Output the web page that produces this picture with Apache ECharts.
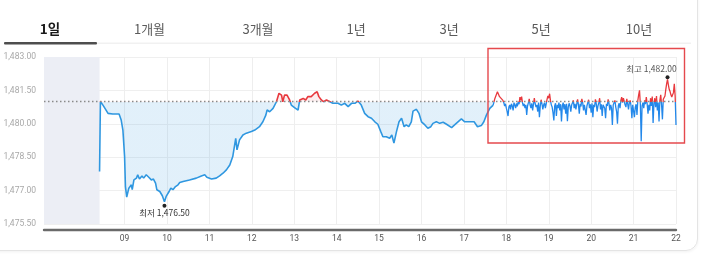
<!DOCTYPE html>
<html>
<head>
<meta charset="utf-8">
<script src="https://cdn.jsdelivr.net/npm/echarts@6/dist/echarts.min.js"></script>
<style>
html,body{margin:0;padding:0;background:#fff;overflow:hidden;}
#card{position:absolute;left:-12px;top:-12px;width:708px;height:261px;border:1px solid #e4e4e4;border-radius:12px;box-shadow:0 1px 3px rgba(0,0,0,0.06);}
#chart{position:absolute;left:0;top:0;width:712px;height:264px;}
</style>
</head>
<body>
<div id="card"></div>
<div id="chart"></div>
<script>
// ---- data ----
const tabs = ['1일', '1개월', '3개월', '1년', '3년', '5년', '10년'];
const hourTicks = [9, 10, 11, 12, 13, 14, 15, 16, 17, 18, 19, 20, 21, 22];
const prevClose = 1481.0;
const yTicksMin = 1475.5, yTicksMax = 1483.0, yStep = 1.5;

// day session (hour of day, price)
const dayTimes = [8.41, 8.43, 8.49, 8.61, 8.72, 8.87, 8.92, 8.96, 9.00, 9.02, 9.05, 9.10, 9.16, 9.18, 9.22, 9.28, 9.31, 9.35, 9.41, 9.45,
  9.51, 9.57, 9.63, 9.68, 9.73, 9.76, 9.83, 9.89, 9.94, 9.98, 10.05, 10.09, 10.14, 10.20, 10.26, 10.30, 10.38, 10.53, 10.69, 10.81,
  10.89, 10.94, 11.05, 11.16, 11.24, 11.32, 11.40, 11.48, 11.55, 11.62, 11.65, 11.71, 11.79, 11.87, 11.91, 11.99, 12.07, 12.18, 12.26, 12.33,
  12.36, 12.42, 12.50, 12.58, 12.64, 12.70, 12.73, 12.77, 12.83, 12.89, 12.93, 12.97, 13.03, 13.09, 13.13, 13.21, 13.27, 13.32, 13.40, 13.48,
  13.54, 13.58, 13.64, 13.69, 13.76, 13.84, 13.91, 14.03, 14.11, 14.19, 14.27, 14.35, 14.43, 14.50, 14.58, 14.66, 14.74, 14.82, 14.90, 14.97,
  15.04, 15.09, 15.17, 15.25, 15.30, 15.35, 15.41, 15.47, 15.53, 15.59, 15.64, 15.70, 15.76, 15.80, 15.88, 15.94, 16.00, 16.08, 16.15, 16.22,
  16.27, 16.35, 16.43, 16.51, 16.59, 16.71, 16.78, 16.86, 16.94, 17.02, 17.14, 17.24, 17.32, 17.41, 17.47, 17.53, 17.61, 17.69];
const dayValues = [1477.86, 1481.00, 1480.84, 1480.47, 1480.44, 1480.44, 1480.17, 1479.72, 1478.53, 1477.18, 1476.71, 1477.11, 1477.26, 1477.04, 1477.48, 1477.56, 1477.71, 1477.52, 1477.66, 1477.56,
  1477.71, 1477.60, 1477.48, 1477.52, 1477.34, 1477.04, 1476.96, 1476.77, 1476.50, 1476.74, 1476.96, 1477.11, 1477.04, 1477.18, 1477.26, 1477.36, 1477.41, 1477.48, 1477.56, 1477.66,
  1477.71, 1477.60, 1477.52, 1477.56, 1477.66, 1477.78, 1477.93, 1478.15, 1478.53, 1479.35, 1478.83, 1479.28, 1479.50, 1479.58, 1479.50, 1479.65, 1479.72, 1479.87, 1480.09, 1480.39,
  1480.62, 1480.54, 1480.69, 1480.99, 1481.37, 1481.29, 1480.99, 1481.29, 1481.29, 1481.07, 1480.84, 1480.92, 1480.69, 1480.62, 1481.07, 1481.14, 1481.07, 1481.22, 1481.22, 1481.37,
  1481.44, 1481.22, 1481.07, 1480.99, 1481.07, 1480.99, 1480.92, 1480.92, 1480.84, 1480.92, 1480.77, 1480.92, 1480.92, 1481.02, 1480.84, 1480.47, 1480.32, 1480.25, 1480.09, 1479.98,
  1479.65, 1479.42, 1479.42, 1479.35, 1479.50, 1479.13, 1479.65, 1480.09, 1480.25, 1479.87, 1479.95, 1479.87, 1480.09, 1480.57, 1480.65, 1480.47, 1480.09, 1479.95, 1479.80, 1479.87,
  1480.02, 1480.09, 1480.02, 1480.07, 1479.98, 1479.83, 1479.95, 1480.09, 1480.22, 1480.09, 1480.09, 1480.09, 1479.87, 1479.92, 1480.09, 1480.39, 1480.69, 1480.84];

// bridge into the night session
const bridgeTimes = [17.69, 17.73, 17.79, 17.84];
const bridgeValues = [1480.84, 1481.14, 1481.44, 1481.22];

// night session: one price per 1.2-minute step starting at 17.92h
const nightStart = 17.92, nightStep = 0.02;
const nightValues = [
  1481.05, 1480.95, 1480.80, 1480.90, 1480.70, 1480.55, 1480.35, 1480.75, 1480.85, 1480.65,
  1480.90, 1480.80, 1480.60, 1480.95, 1480.85, 1480.70, 1480.92, 1480.78, 1481.00, 1480.88,
  1481.20, 1481.05, 1481.22, 1480.95, 1480.80, 1480.90, 1480.70, 1480.85, 1480.40, 1480.80,
  1480.95, 1481.12, 1480.85, 1480.70, 1480.92, 1480.60, 1480.88, 1481.15, 1480.90, 1480.75,
  1480.85, 1480.55, 1480.95, 1480.30, 1480.80, 1481.08, 1480.90, 1480.65, 1480.85, 1480.95,
  1480.70, 1480.90, 1481.10, 1481.25, 1481.15, 1481.35, 1481.05, 1480.85, 1480.75, 1480.50,
  1480.15, 1480.80, 1480.92, 1480.35, 1480.85, 1480.70, 1480.95, 1480.60, 1480.88, 1480.10,
  1480.80, 1480.95, 1480.65, 1480.88, 1480.45, 1480.90, 1480.12, 1480.75, 1480.92, 1480.80,
  1480.55, 1480.85, 1480.95, 1481.05, 1480.70, 1480.90, 1480.65, 1480.88, 1481.10, 1480.85,
  1480.45, 1480.90, 1480.78, 1481.12, 1480.95, 1480.60, 1480.85, 1480.92, 1480.40, 1480.80,
  1480.95, 1481.08, 1480.70, 1480.88, 1480.50, 1480.92, 1480.30, 1480.85, 1480.75, 1481.10,
  1480.90, 1480.55, 1480.80, 1480.95, 1481.15, 1480.65, 1480.88, 1480.35, 1480.85, 1480.92,
  1480.70, 1480.25, 1480.90, 1480.80, 1481.10, 1480.92, 1480.60, 1480.85, 1480.70, 1479.95,
  1480.85, 1480.95, 1481.05, 1480.75, 1480.55, 1480.00, 1480.80, 1480.92, 1480.70, 1481.05,
  1481.20, 1480.95, 1481.15, 1481.22, 1480.85, 1480.75, 1481.12, 1480.90, 1480.65, 1480.95,
  1481.05, 1480.80, 1480.25, 1480.85, 1480.92, 1480.30, 1480.75, 1480.88, 1480.40, 1481.05,
  1481.30, 1481.50, 1480.85, 1479.22, 1480.80, 1480.95, 1480.70, 1481.05, 1480.88, 1481.20,
  1480.90, 1480.45, 1480.85, 1480.60, 1481.15, 1480.80, 1481.22, 1480.04, 1480.90, 1481.15,
  1480.75, 1481.25, 1480.60, 1480.95, 1480.10, 1481.05, 1481.30, 1480.85, 1480.20, 1481.10,
  1481.05, 1481.25, 1481.55, 1481.80, 1482.00, 1481.75, 1481.55, 1481.45, 1481.30, 1481.20,
  1481.15, 1481.40, 1481.80, 1481.25, 1479.95];

// ---- build ----
const daySeries = dayTimes.map((t, i) => [t, dayValues[i]]);
const nightSeries = bridgeTimes.map((t, i) => [t, bridgeValues[i]])
  .concat(nightValues.map((v, i) => [+(nightStart + i * nightStep).toFixed(3), v]));

const BLUE = '#2f97e0', BLUE2 = '#2388ea', RED = '#e8393e';
const fmt = v => v.toLocaleString('en-US', {minimumFractionDigits: 2, maximumFractionDigits: 2});
const FONT = '"Noto Sans CJK KR", "Noto Sans", sans-serif';

const chart = echarts.init(document.getElementById('chart'), null, {renderer: 'canvas'});

const tabX = [50, 149.5, 258, 356, 449, 541, 639];
const graphics = tabs.map((t, i) => ({
  type: 'text', z: 10,
  style: {
    text: t, x: tabX[i], y: 29, textAlign: 'center', textVerticalAlign: 'middle',
    font: (i === 0 ? 'bold 13.5px ' : '13px ') + FONT,
    fill: i === 0 ? '#1a1a1a' : '#5a5a5a'
  }
}));
graphics.push({type: 'rect', z: 10, shape: {x: 97, y: 42.5, width: 594, height: 1.5}, style: {fill: '#f1f1f1'}});
graphics.push({type: 'rect', z: 11, shape: {x: 4, y: 42, width: 93, height: 2.6, r: 1}, style: {fill: '#4e4e4e'}});
graphics.push({type: 'rect', z: 20, shape: {x: 488, y: 48.5, width: 196.5, height: 94.5}, style: {fill: 'none', stroke: '#e5494d', lineWidth: 1.4}});

const option = {
  animation: false,
  grid: {left: 44, right: 36, top: 57, bottom: 40},
  graphic: graphics,
  xAxis: {
    type: 'value', min: 7.1, max: 22,
    offset: 5.5,
    axisLine: {show: true, lineStyle: {color: '#6a6a6a', width: 2.4}},
    axisTick: {show: false, customValues: hourTicks},
    axisLabel: {
      customValues: hourTicks, color: '#555', fontSize: 8.5, margin: 5, fontFamily: 'Roboto, sans-serif',
      formatter: v => String(Math.round(v)).padStart(2, '0')
    },
    splitLine: {show: true, lineStyle: {color: '#eeeeee', width: 1}}
  },
  yAxis: {
    type: 'value', min: yTicksMin, max: yTicksMax, interval: yStep,
    axisLine: {show: false}, axisTick: {show: false},
    axisLabel: {color: '#a8a8a8', fontSize: 8.5, margin: 8, fontFamily: 'Roboto, sans-serif', formatter: fmt},
    splitLine: {show: true, lineStyle: {color: '#efefef', width: 1}}
  },
  series: [
    {
      type: 'line', data: daySeries, symbol: 'none', lineStyle: {width: 1.6, color: BLUE},
      areaStyle: {origin: prevClose, color: 'rgba(47,151,224,0.2)'},
      markArea: {
        silent: true, itemStyle: {color: '#eceef5'},
        data: [[{xAxis: 7.1}, {xAxis: dayTimes[0]}]]
      },
      markLine: {
        silent: true, symbol: 'none', label: {show: false},
        lineStyle: {color: '#8a8a8a', type: [1.5, 2.5], width: 1.3},
        data: [{yAxis: prevClose}]
      },
      markPoint: {
        symbol: 'circle', symbolSize: 4, symbolOffset: [0, 4],
        itemStyle: {color: '#222'},
        label: {show: true, position: 'bottom', distance: 1, color: '#333', fontSize: 8.5, fontFamily: FONT,
          formatter: p => '최저 ' + fmt(p.value)},
        data: [{type: 'min'}]
      }
    },
    {
      type: 'line', data: nightSeries, symbol: 'none', lineStyle: {width: 1.3, color: BLUE2},
      markPoint: {
        symbol: 'circle', symbolSize: 4, symbolOffset: [0, -2],
        itemStyle: {color: '#222'},
        label: {show: true, position: 'top', distance: 2, offset: [-16, 0], color: '#555', fontSize: 8.5, fontFamily: FONT,
          formatter: p => '최고 ' + fmt(p.value)},
        data: [{type: 'max'}]
      }
    }
  ]
};
chart.setOption(option);

// split colours at the previous close using a global vertical gradient
const yTop = chart.convertToPixel({yAxisIndex: 0}, yTicksMax);
const yBot = chart.convertToPixel({yAxisIndex: 0}, yTicksMin);
const yPc = chart.convertToPixel({yAxisIndex: 0}, prevClose);
const f = (yPc - yTop) / (yBot - yTop);
const grad = (up, down) => new echarts.graphic.LinearGradient(0, yTop, 0, yBot, [
  {offset: 0, color: up}, {offset: f, color: up}, {offset: f, color: down}, {offset: 1, color: down}
], true);
chart.setOption({
  series: [
    {lineStyle: {color: grad(RED, BLUE)}, areaStyle: {color: grad('rgba(232,57,62,0.12)', 'rgba(47,151,224,0.2)')}},
    {lineStyle: {color: grad(RED, BLUE2)}}
  ]
});
</script>
</body>
</html>
